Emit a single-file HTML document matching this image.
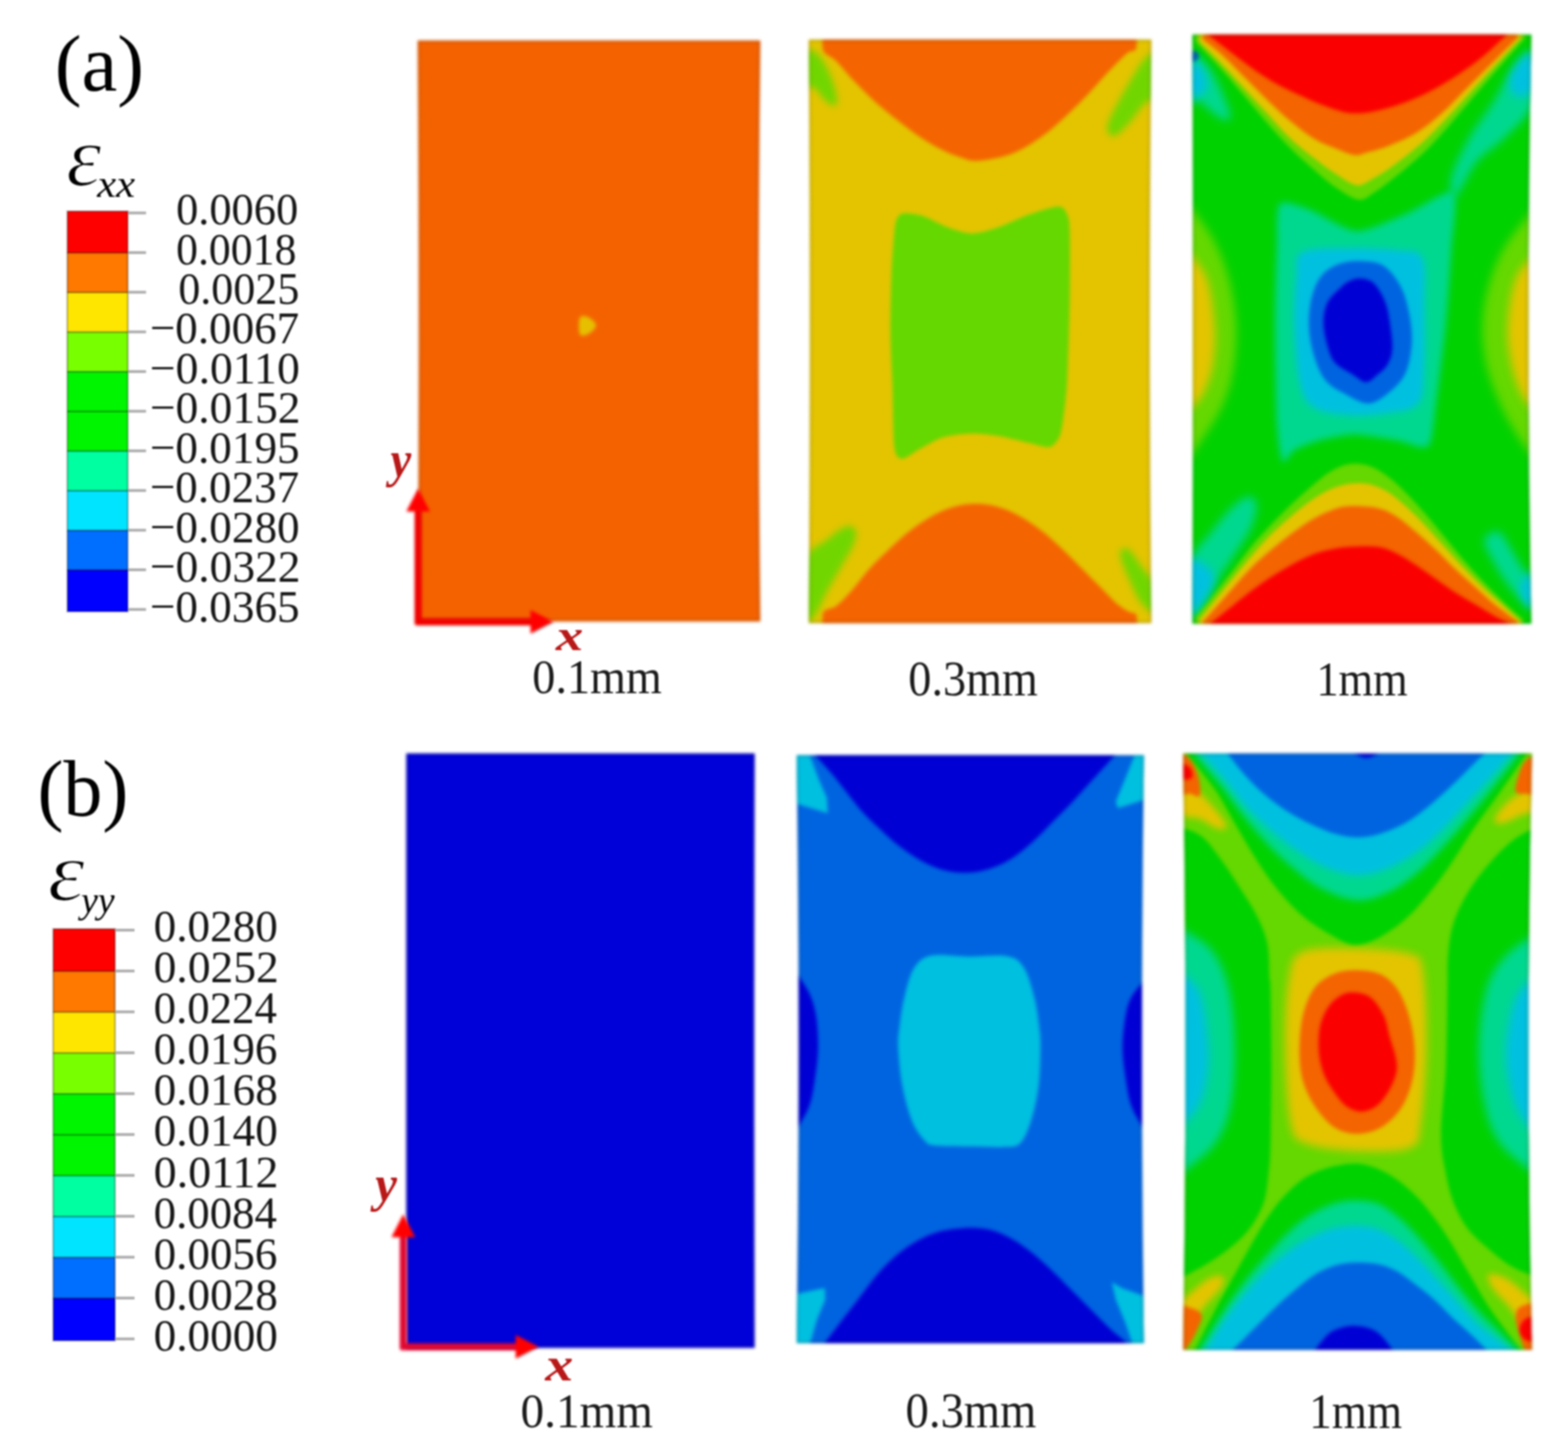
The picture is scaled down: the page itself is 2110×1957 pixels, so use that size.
<!DOCTYPE html>
<html lang="en">
<head>
<meta charset="utf-8">
<title>Strain contour plots</title>
<style>
html,body{margin:0;padding:0;background:#fff;}
body{width:2110px;height:1957px;overflow:hidden;}
svg{display:block;}
text{font-family:"Liberation Serif","DejaVu Serif",serif;}
</style>
</head>
<body>
<svg width="2110" height="1957" viewBox="0 0 2110 1957">
<defs>
<filter id="soft" x="-20%" y="-20%" width="140%" height="140%" color-interpolation-filters="sRGB"><feGaussianBlur stdDeviation="1.8"/></filter>
<filter id="soft15" x="-30%" y="-30%" width="160%" height="160%" color-interpolation-filters="sRGB"><feGaussianBlur stdDeviation="4"/></filter>
<filter id="soft2" x="-30%" y="-30%" width="160%" height="160%" color-interpolation-filters="sRGB"><feGaussianBlur stdDeviation="6"/></filter>
<filter id="soft3" x="-50%" y="-50%" width="200%" height="200%" color-interpolation-filters="sRGB"><feGaussianBlur stdDeviation="12"/></filter>
<filter id="soft4" x="-80%" y="-80%" width="260%" height="260%" color-interpolation-filters="sRGB"><feGaussianBlur stdDeviation="20"/></filter>
<filter id="edge" x="-5%" y="-5%" width="110%" height="110%" color-interpolation-filters="sRGB"><feGaussianBlur stdDeviation="1.9"/></filter>
<filter id="leg" x="-10%" y="-10%" width="120%" height="120%" color-interpolation-filters="sRGB"><feGaussianBlur stdDeviation="1.1"/></filter>
<filter id="arr" x="-10%" y="-10%" width="120%" height="120%" color-interpolation-filters="sRGB"><feGaussianBlur stdDeviation="1.9"/></filter>
<filter id="txt" filterUnits="userSpaceOnUse" x="0" y="0" width="2110" height="1957" color-interpolation-filters="sRGB"><feGaussianBlur stdDeviation="1.1"/></filter>
</defs>
<rect width="2110" height="1957" fill="#fff"/>
<g filter="url(#edge)">
<clipPath id="clip-a1"><path d="M562,54.6 L1023.2,54.6 Q1018.4,445.6 1023.2,836.5 L562,836.5 Q565.0,445.6 562,54.6Z"/></clipPath>
<g clip-path="url(#clip-a1)">
<rect x="532" y="24.6" width="521.2" height="841.9" fill="#f46200"/>
<path d="M780.3,427.5 C782.2,423.7 788.1,425.3 791.7,427.0 C795.3,428.7 802.1,434.2 802.1,437.9 C802.1,441.6 795.3,447.4 791.7,449.4 C788.1,451.3 782.2,453.5 780.3,449.9 C778.4,446.2 778.4,431.3 780.3,427.5Z" fill="#e6c000" filter="url(#soft)"/>
<path d="M562,54.6 L1023.2,54.6 Q1018.4,445.6 1023.2,836.5 L562,836.5 Q565.0,445.6 562,54.6Z" fill="none" stroke="#000" stroke-opacity="0.13" stroke-width="6"/>
</g></g>
<g filter="url(#edge)">
<clipPath id="clip-a2"><path d="M1088.3,53.3 L1549.4,53.3 Q1544.8,446.0 1549.4,838.8 L1088.3,838.8 Q1091.3,446.0 1088.3,53.3Z"/></clipPath>
<g clip-path="url(#clip-a2)">
<rect x="1058.3" y="23.299999999999997" width="521.1" height="845.5" fill="#e4c400"/>
<path d="M1107.0,45.7 C1107.2,49.2 1105.5,63.7 1108.3,69.1 C1111.0,74.6 1119.6,76.7 1125.2,82.2 C1130.9,87.7 1138.7,97.8 1146.1,105.7 C1153.5,113.5 1165.8,126.1 1174.8,134.4 C1183.8,142.6 1196.7,153.0 1206.1,160.5 C1215.5,167.9 1228.0,177.7 1237.4,183.9 C1246.8,190.2 1260.1,197.9 1268.7,202.2 C1277.3,206.5 1288.6,210.5 1294.8,212.6 C1301.1,214.8 1304.6,216.4 1310.5,216.6 C1316.3,216.7 1326.5,215.3 1334.0,213.9 C1341.4,212.6 1352.2,210.4 1360.1,207.4 C1367.9,204.5 1378.3,199.1 1386.1,194.4 C1394.0,189.7 1404.4,182.4 1412.2,176.1 C1420.1,169.8 1430.5,160.1 1438.3,152.6 C1446.2,145.2 1456.6,134.8 1464.4,126.5 C1472.2,118.3 1482.7,106.1 1490.5,97.8 C1498.3,89.6 1510.9,76.4 1516.6,71.7 C1522.3,67.0 1526.4,70.4 1528.3,66.5 C1530.3,62.6 1529.4,48.8 1529.6,45.7 L1529.6,30.0 L1107.0,30.0Z" fill="#f46400" filter="url(#soft)"/>
<path d="M1216.5,287.0 C1221.2,286.7 1234.6,288.3 1242.6,290.9 C1250.6,293.5 1267.9,303.4 1276.6,306.6 C1285.3,309.7 1299.2,314.4 1307.9,314.4 C1316.6,314.4 1331.3,310.0 1341.8,306.6 C1352.2,303.1 1375.0,292.1 1386.1,288.3 C1397.3,284.5 1418.5,277.5 1425.3,277.9 C1432.1,278.2 1435.1,285.7 1437.0,290.9 C1438.9,296.1 1439.3,303.1 1439.6,317.0 C1440.0,330.9 1439.8,377.5 1439.6,395.3 C1439.5,413.0 1438.8,433.7 1438.3,450.1 C1437.8,466.5 1436.8,502.9 1435.7,518.3 C1434.7,533.6 1431.9,555.8 1430.5,565.2 C1429.1,574.6 1427.7,583.9 1425.3,588.7 C1422.8,593.6 1417.5,600.7 1412.2,601.8 C1407.0,602.8 1394.8,598.5 1386.1,596.5 C1377.4,594.6 1357.4,589.2 1347.0,587.4 C1336.6,585.7 1318.3,583.3 1307.9,583.5 C1297.4,583.7 1278.1,585.9 1268.7,588.7 C1259.3,591.5 1244.7,600.5 1237.4,604.4 C1230.1,608.2 1218.5,617.8 1213.9,617.4 C1209.4,617.1 1205.2,615.0 1203.5,601.8 C1201.8,588.5 1201.6,538.5 1200.9,518.3 C1200.2,498.0 1198.5,469.9 1198.3,450.1 C1198.1,430.2 1198.9,387.6 1199.6,369.2 C1200.3,350.7 1202.5,321.9 1203.5,311.8 C1204.5,301.7 1205.7,296.8 1207.4,293.5 C1209.2,290.2 1211.9,287.3 1216.5,287.0Z" fill="#64d800" filter="url(#soft)"/>
<path d="M1084.8,69.1 C1087.2,62.2 1094.6,68.3 1099.1,71.7 C1103.7,75.2 1108.3,82.6 1112.2,90.0 C1116.1,97.4 1120.2,108.3 1122.6,116.1 C1125.0,123.9 1126.8,132.6 1126.5,137.0 C1126.3,141.3 1124.1,142.6 1121.3,142.2 C1118.5,141.8 1113.7,138.3 1109.6,134.4 C1105.4,130.5 1100.7,122.2 1096.5,118.7 C1092.4,115.2 1086.7,121.8 1084.8,113.5 C1082.8,105.2 1082.4,76.1 1084.8,69.1Z" fill="#64d800" fill-opacity="0.9" filter="url(#soft15)"/>
<path d="M1553.1,74.4 C1551.0,66.1 1544.9,74.8 1540.1,79.6 C1535.3,84.4 1530.5,93.1 1524.4,103.1 C1518.3,113.1 1509.2,128.7 1503.6,139.6 C1497.9,150.5 1492.2,161.3 1490.5,168.3 C1488.8,175.2 1490.9,179.2 1493.1,181.3 C1495.3,183.5 1498.8,184.4 1503.6,181.3 C1508.3,178.3 1515.7,170.0 1521.8,163.1 C1527.9,156.1 1534.9,145.2 1540.1,139.6 C1545.3,133.9 1551.0,140.0 1553.1,129.1 C1555.3,118.3 1555.3,82.6 1553.1,74.4Z" fill="#64d800" fill-opacity="0.9" filter="url(#soft15)"/>
<path d="M1084.8,753.1 C1089.4,735.3 1103.3,734.4 1112.2,727.0 C1121.1,719.6 1131.8,710.9 1138.3,708.7 C1144.8,706.6 1149.6,710.0 1151.3,714.0 C1153.1,717.9 1151.8,724.4 1148.7,732.2 C1145.7,740.1 1139.1,750.1 1133.1,760.9 C1127.0,771.8 1117.8,787.0 1112.2,797.5 C1106.5,807.9 1103.7,817.5 1099.1,823.5 C1094.6,829.6 1087.2,845.7 1084.8,834.0 C1082.4,822.2 1080.2,770.9 1084.8,753.1Z" fill="#64d800" fill-opacity="0.9" filter="url(#soft15)"/>
<path d="M1508.8,740.1 C1510.5,737.9 1514.9,736.6 1519.2,740.1 C1523.6,743.5 1529.2,753.1 1534.9,760.9 C1540.5,768.8 1550.1,776.6 1553.1,787.0 C1556.2,797.5 1556.2,819.6 1553.1,823.5 C1550.1,827.5 1540.5,817.9 1534.9,810.5 C1529.2,803.1 1523.6,788.8 1519.2,779.2 C1514.9,769.6 1510.5,759.6 1508.8,753.1 C1507.0,746.6 1507.0,742.2 1508.8,740.1Z" fill="#64d800" fill-opacity="0.9" filter="url(#soft15)"/>
<path d="M1107.0,847.0 C1107.2,843.5 1105.5,828.2 1108.3,823.5 C1111.0,818.8 1119.6,820.0 1125.2,815.7 C1130.9,811.4 1139.4,802.3 1146.1,794.8 C1152.8,787.4 1162.1,774.4 1169.6,766.1 C1177.0,757.9 1187.8,747.5 1195.7,740.1 C1203.5,732.6 1213.9,722.8 1221.8,716.6 C1229.6,710.3 1240.0,703.0 1247.9,698.3 C1255.7,693.6 1266.1,688.2 1273.9,685.3 C1281.8,682.3 1292.2,679.7 1300.0,678.7 C1307.9,677.8 1318.3,677.8 1326.1,678.7 C1334.0,679.7 1344.4,682.3 1352.2,685.3 C1360.1,688.2 1370.5,693.6 1378.3,698.3 C1386.1,703.0 1396.6,710.3 1404.4,716.6 C1412.2,722.8 1422.7,732.6 1430.5,740.1 C1438.3,747.5 1448.8,758.3 1456.6,766.1 C1464.4,774.0 1475.6,785.2 1482.7,792.2 C1489.7,799.3 1498.1,808.4 1503.6,813.1 C1509.0,817.8 1515.4,821.4 1519.2,823.5 C1523.0,825.7 1527.6,823.9 1529.1,827.5 C1530.7,831.0 1529.6,844.1 1529.6,847.0 L1529.6,870.5 L1107.0,870.5Z" fill="#f46400" filter="url(#soft)"/>
<path d="M1088.3,53.3 L1549.4,53.3 Q1544.8,446.0 1549.4,838.8 L1088.3,838.8 Q1091.3,446.0 1088.3,53.3Z" fill="none" stroke="#000" stroke-opacity="0.13" stroke-width="6"/>
</g></g>
<g filter="url(#edge)">
<clipPath id="clip-a3"><path d="M1604.5,46.5 L2060.8,46.5 Q2052.6,443.0 2060.8,839.5 L1604.5,839.5 Q1606.1,443.0 1604.5,46.5Z"/></clipPath>
<g clip-path="url(#clip-a3)">
<rect x="1574.5" y="16.5" width="516.3" height="853.0" fill="#00d200"/>
<path d="M1600.9,277.0 C1606.1,284.4 1623.5,305.2 1632.2,321.3 C1640.9,337.4 1647.8,353.9 1653.1,373.5 C1658.3,393.1 1662.6,417.0 1663.5,438.7 C1664.4,460.5 1662.2,484.4 1658.3,504.0 C1654.4,523.5 1649.6,537.4 1640.0,556.1 C1630.4,574.8 1607.4,606.1 1600.9,616.2 L1580.0,616.2 L1580.0,277.0Z" fill="#64d800" filter="url(#soft2)"/>
<path d="M1602.2,342.2 C1605.9,347.8 1618.9,360.0 1624.4,376.1 C1629.8,392.2 1633.5,419.6 1634.8,438.7 C1636.1,457.9 1634.8,475.7 1632.2,490.9 C1629.6,506.1 1624.1,520.0 1619.1,530.1 C1614.1,540.1 1605.0,547.4 1602.2,550.9 L1580.0,550.9 L1580.0,342.2Z" fill="#e4c400" filter="url(#soft2)"/>
<path d="M2062.7,282.2 C2056.2,290.9 2033.6,317.0 2023.6,334.4 C2013.6,351.8 2007.5,369.2 2002.7,386.5 C1997.9,403.9 1995.3,421.3 1994.9,438.7 C1994.4,456.1 1996.2,473.5 2000.1,490.9 C2004.0,508.3 2011.8,527.9 2018.3,543.1 C2024.9,558.3 2031.8,570.1 2039.2,582.2 C2046.6,594.4 2058.8,610.5 2062.7,616.2 L2088.8,616.2 L2088.8,282.2Z" fill="#64d800" filter="url(#soft2)"/>
<path d="M2062.7,344.8 C2058.8,350.0 2044.9,360.5 2039.2,376.1 C2033.6,391.8 2029.6,419.6 2028.8,438.7 C2027.9,457.9 2030.9,475.7 2034.0,490.9 C2037.0,506.1 2042.3,520.0 2047.0,530.1 C2051.8,540.1 2060.1,547.4 2062.7,550.9 L2088.8,550.9 L2088.8,344.8Z" fill="#e4c400" filter="url(#soft2)"/>
<path d="M1722.2,274.4 C1727.4,268.3 1750.6,277.9 1762.6,282.2 C1774.7,286.4 1810.0,310.3 1825.3,310.9 C1840.5,311.5 1877.9,293.5 1893.1,287.4 C1908.3,281.3 1948.7,253.2 1955.7,258.7 C1962.7,264.2 1954.3,313.4 1953.1,334.4 C1951.9,355.4 1947.7,414.4 1945.3,438.7 C1942.8,463.1 1935.0,524.2 1932.2,543.1 C1929.5,562.0 1927.9,594.7 1921.8,600.5 C1915.7,606.3 1891.6,594.5 1880.1,592.7 C1868.5,590.8 1834.8,584.8 1822.6,584.8 C1810.5,584.8 1785.1,590.2 1775.7,592.7 C1766.2,595.1 1747.5,602.4 1741.8,605.7 C1736.0,609.1 1728.9,625.6 1726.1,621.4 C1723.4,617.1 1719.5,590.5 1718.3,569.2 C1717.1,547.9 1715.7,466.1 1715.7,438.7 C1715.7,411.3 1717.5,353.5 1718.3,334.4 C1719.0,315.2 1717.0,280.4 1722.2,274.4Z" fill="#00d890" filter="url(#soft15)"/>
<path d="M2062.7,69.1 C2067.5,76.5 2069.2,120.0 2062.7,139.6 C2056.2,159.2 2036.2,173.5 2023.6,186.5 C2010.9,199.6 1997.9,204.8 1987.0,217.9 C1976.2,230.9 1964.0,261.3 1958.3,264.8 C1952.7,268.3 1950.1,251.8 1953.1,238.7 C1956.1,225.7 1967.5,203.1 1976.6,186.5 C1985.7,170.0 1998.3,154.8 2007.9,139.6 C2017.5,124.4 2024.9,107.0 2034.0,95.2 C2043.1,83.5 2057.9,61.7 2062.7,69.1Z" fill="#00d890" filter="url(#soft2)"/>
<path d="M2062.7,74.4 C2065.7,80.9 2066.6,112.2 2062.7,121.3 C2058.8,130.5 2044.4,131.3 2039.2,129.1 C2034.0,127.0 2030.5,116.1 2031.4,108.3 C2032.2,100.4 2039.2,87.8 2044.4,82.2 C2049.6,76.5 2059.6,67.8 2062.7,74.4Z" fill="#00c0e0" filter="url(#soft2)"/>
<path d="M1600.9,77.0 C1603.9,67.4 1613.0,77.0 1619.1,82.2 C1625.2,87.4 1631.3,96.1 1637.4,108.3 C1643.5,120.4 1654.4,146.5 1655.7,155.2 C1657.0,163.9 1650.0,161.8 1645.2,160.5 C1640.4,159.2 1632.6,151.8 1627.0,147.4 C1621.3,143.1 1615.7,135.7 1611.3,134.4 C1607.0,133.1 1602.6,149.2 1600.9,139.6 C1599.1,130.0 1597.8,86.5 1600.9,77.0Z" fill="#00d890" filter="url(#soft2)"/>
<path d="M1600.9,82.2 C1603.5,75.7 1612.6,84.4 1616.5,90.0 C1620.4,95.7 1624.8,109.6 1624.4,116.1 C1623.9,122.6 1617.8,127.0 1613.9,129.1 C1610.0,131.3 1603.0,137.0 1600.9,129.1 C1598.7,121.3 1598.3,88.7 1600.9,82.2Z" fill="#00c0e0" filter="url(#soft2)"/>
<path d="M1602.2,69.1 C1603.6,67.3 1608.9,68.4 1610.8,69.7 C1612.7,71.0 1613.8,74.9 1613.4,77.0 C1613.0,79.1 1610.0,81.5 1608.2,82.2 C1606.3,82.8 1603.2,83.1 1602.2,80.9 C1601.2,78.7 1600.7,71.0 1602.2,69.1Z" fill="#0050c0" fill-opacity="0.85" filter="url(#soft)"/>
<path d="M1752.2,339.6 C1763.9,333.1 1793.5,334.8 1814.8,334.4 C1836.1,333.9 1863.5,334.8 1880.1,337.0 C1896.6,339.1 1907.9,334.8 1914.0,347.4 C1920.1,360.0 1916.1,388.7 1916.6,412.6 C1917.0,436.6 1917.9,469.2 1916.6,490.9 C1915.3,512.7 1917.0,532.2 1908.8,543.1 C1900.5,554.0 1882.7,553.5 1867.0,556.1 C1851.3,558.8 1831.3,560.1 1814.8,558.8 C1798.3,557.4 1778.7,555.3 1767.9,548.3 C1757.0,541.4 1753.9,535.3 1749.6,517.0 C1745.2,498.7 1742.6,462.6 1741.8,438.7 C1740.9,414.8 1742.6,390.0 1744.4,373.5 C1746.1,357.0 1740.5,346.1 1752.2,339.6Z" fill="#00c0e0" filter="url(#soft15)"/>
<path d="M1830.5,351.3 C1840.5,351.8 1852.7,352.0 1861.8,357.8 C1870.9,363.7 1879.4,375.2 1885.3,386.5 C1891.1,397.9 1894.6,412.6 1897.0,425.7 C1899.4,438.7 1900.7,451.8 1899.6,464.8 C1898.5,477.9 1895.9,493.1 1890.5,504.0 C1885.1,514.8 1875.3,523.5 1867.0,530.1 C1858.7,536.6 1850.5,543.1 1840.9,543.1 C1831.3,543.1 1819.2,535.3 1809.6,530.1 C1800.0,524.8 1790.5,520.5 1783.5,511.8 C1776.6,503.1 1771.6,490.0 1767.9,477.9 C1764.2,465.7 1761.8,451.8 1761.3,438.7 C1760.9,425.7 1762.4,410.9 1765.2,399.6 C1768.1,388.3 1772.2,378.3 1778.3,370.9 C1784.4,363.5 1793.1,358.5 1801.8,355.2 C1810.5,352.0 1820.5,350.9 1830.5,351.3Z" fill="#0064e0" filter="url(#soft)"/>
<path d="M1830.5,374.8 C1836.1,375.2 1843.1,375.9 1848.7,381.3 C1854.4,386.8 1860.7,397.9 1864.4,407.4 C1868.1,417.0 1869.4,428.3 1870.9,438.7 C1872.4,449.2 1874.2,461.3 1873.5,470.0 C1872.9,478.7 1870.3,485.3 1867.0,490.9 C1863.7,496.6 1858.7,500.0 1854.0,504.0 C1849.2,507.9 1844.0,514.4 1838.3,514.4 C1832.7,514.4 1827.0,508.3 1820.0,504.0 C1813.1,499.6 1802.2,494.8 1796.6,488.3 C1790.9,481.8 1788.7,474.0 1786.1,464.8 C1783.5,455.7 1780.9,443.1 1780.9,433.5 C1780.9,423.9 1782.6,414.8 1786.1,407.4 C1789.6,400.0 1797.0,393.9 1801.8,389.2 C1806.6,384.4 1810.0,381.1 1814.8,378.7 C1819.6,376.3 1824.8,374.4 1830.5,374.8Z" fill="#0000d4" filter="url(#soft)"/>
<path d="M1608.7,56.1 C1614.8,62.6 1633.9,82.6 1645.2,95.2 C1656.5,107.8 1666.5,120.0 1676.5,131.8 C1686.5,143.5 1695.2,154.4 1705.2,165.7 C1715.2,177.0 1726.1,189.2 1736.5,199.6 C1747.0,210.0 1757.9,219.6 1767.9,228.3 C1777.9,237.0 1786.6,245.0 1796.6,251.8 C1806.6,258.5 1819.2,267.4 1827.9,268.7 C1836.6,270.0 1840.0,265.0 1848.7,259.6 C1857.4,254.2 1868.3,245.7 1880.1,236.1 C1891.8,226.6 1907.4,213.5 1919.2,202.2 C1930.9,190.9 1940.1,180.0 1950.5,168.3 C1960.9,156.5 1971.4,143.9 1981.8,131.8 C1992.2,119.6 2001.4,108.7 2013.1,95.2 C2024.9,81.7 2045.7,58.3 2052.3,50.9 L2052.3,30.0 L1608.7,30.0Z" fill="#64d800" filter="url(#soft)"/>
<path d="M1613.9,56.1 C1619.1,61.3 1634.8,76.5 1645.2,87.4 C1655.7,98.3 1666.5,110.4 1676.5,121.3 C1686.5,132.2 1695.2,141.8 1705.2,152.6 C1715.2,163.5 1726.1,176.5 1736.5,186.5 C1747.0,196.5 1757.9,204.8 1767.9,212.6 C1777.9,220.5 1787.0,227.4 1796.6,233.5 C1806.1,239.6 1817.0,247.9 1825.3,249.2 C1833.5,250.5 1837.9,245.7 1846.1,241.3 C1854.4,237.0 1863.5,231.3 1874.8,223.1 C1886.1,214.8 1902.2,202.2 1914.0,191.8 C1925.7,181.3 1934.8,171.3 1945.3,160.5 C1955.7,149.6 1966.2,137.8 1976.6,126.5 C1987.0,115.2 1996.2,105.2 2007.9,92.6 C2019.6,80.0 2040.5,57.8 2047.0,50.9 L2047.0,30.0 L1613.9,30.0Z" fill="#e4c400" filter="url(#soft)"/>
<path d="M1619.1,53.5 C1623.5,57.0 1635.7,65.7 1645.2,74.4 C1654.8,83.1 1666.5,95.7 1676.5,105.7 C1686.5,115.7 1695.2,124.8 1705.2,134.4 C1715.2,143.9 1726.1,154.4 1736.5,163.1 C1747.0,171.8 1757.9,180.5 1767.9,186.5 C1777.9,192.6 1787.4,195.9 1796.6,199.6 C1805.7,203.3 1815.3,207.9 1822.6,208.7 C1830.0,209.6 1833.5,206.8 1840.9,204.8 C1848.3,202.9 1856.1,201.3 1867.0,197.0 C1877.9,192.6 1894.0,186.1 1906.1,178.7 C1918.3,171.3 1929.2,162.2 1940.1,152.6 C1950.9,143.1 1960.9,131.8 1971.4,121.3 C1981.8,110.9 1990.9,101.8 2002.7,90.0 C2014.4,78.3 2035.3,57.4 2041.8,50.9 L2041.8,30.0 L1619.1,30.0Z" fill="#f46400" filter="url(#soft)"/>
<path d="M1624.4,45.7 C1630.0,50.0 1647.4,63.5 1658.3,71.7 C1669.1,80.0 1678.7,87.8 1689.6,95.2 C1700.5,102.6 1711.3,109.6 1723.5,116.1 C1735.7,122.6 1750.5,129.1 1762.6,134.4 C1774.8,139.6 1786.6,144.4 1796.6,147.4 C1806.6,150.5 1813.1,152.4 1822.6,152.6 C1832.2,152.8 1842.2,151.3 1854.0,148.7 C1865.7,146.1 1880.1,142.0 1893.1,137.0 C1906.1,132.0 1920.1,125.2 1932.2,118.7 C1944.4,112.2 1955.3,105.2 1966.2,97.8 C1977.0,90.4 1987.0,83.1 1997.5,74.4 C2007.9,65.7 2023.6,50.4 2028.8,45.7 L2028.8,30.0 L1624.4,30.0Z" fill="#fa0000" filter="url(#soft)"/>
<path d="M1600.9,758.3 C1605.7,740.1 1620.0,729.2 1629.6,716.6 C1639.1,704.0 1649.8,690.7 1658.3,682.6 C1666.8,674.6 1675.0,668.7 1680.5,668.3 C1685.9,667.9 1690.5,672.9 1690.9,680.0 C1691.3,687.2 1687.8,700.5 1683.1,711.3 C1678.3,722.2 1670.0,733.1 1662.2,745.3 C1654.4,757.4 1644.1,771.4 1636.1,784.4 C1628.1,797.5 1619.8,816.6 1613.9,823.5 C1608.0,830.5 1603.0,837.0 1600.9,826.2 C1598.7,815.3 1596.1,776.6 1600.9,758.3Z" fill="#00d890" filter="url(#soft2)"/>
<path d="M1598.3,755.7 C1602.2,745.3 1615.9,757.0 1621.7,760.9 C1627.6,764.8 1633.9,770.9 1633.5,779.2 C1633.1,787.4 1625.0,803.1 1619.1,810.5 C1613.3,817.9 1601.7,832.7 1598.3,823.5 C1594.8,814.4 1594.4,766.1 1598.3,755.7Z" fill="#00c0e0" filter="url(#soft2)"/>
<path d="M2002.7,719.2 C2006.2,717.0 2013.1,713.1 2018.3,716.6 C2023.6,720.0 2028.8,731.8 2034.0,740.1 C2039.2,748.3 2044.9,759.6 2049.6,766.1 C2054.4,772.7 2060.5,770.5 2062.7,779.2 C2064.9,787.9 2065.7,814.0 2062.7,818.3 C2059.6,822.7 2050.9,811.8 2044.4,805.3 C2037.9,798.8 2030.1,788.8 2023.6,779.2 C2017.0,769.6 2009.6,756.1 2005.3,747.9 C2000.9,739.6 1997.9,734.4 1997.5,729.6 C1997.0,724.8 1999.2,721.4 2002.7,719.2Z" fill="#00d890" filter="url(#soft2)"/>
<path d="M2062.7,774.0 C2065.3,779.6 2064.9,813.1 2062.7,818.3 C2060.5,823.5 2052.3,810.9 2049.6,805.3 C2047.0,799.6 2044.9,789.6 2047.0,784.4 C2049.2,779.2 2060.1,768.3 2062.7,774.0Z" fill="#00c0e0" filter="url(#soft2)"/>
<path d="M1608.7,831.4 C1617.0,820.9 1645.7,784.8 1658.3,768.8 C1670.9,752.7 1675.7,745.3 1684.4,734.8 C1693.1,724.4 1701.8,715.3 1710.5,706.1 C1719.2,697.0 1727.9,688.3 1736.5,680.0 C1745.2,671.8 1753.9,664.0 1762.6,656.6 C1771.3,649.2 1780.0,641.0 1788.7,635.7 C1797.4,630.4 1806.1,626.2 1814.8,624.7 C1823.5,623.2 1832.2,623.9 1840.9,626.6 C1849.6,629.2 1858.3,634.6 1867.0,640.9 C1875.7,647.2 1884.4,655.7 1893.1,664.4 C1901.8,673.1 1910.5,683.1 1919.2,693.1 C1927.9,703.1 1936.6,714.0 1945.3,724.4 C1954.0,734.8 1962.7,745.7 1971.4,755.7 C1980.1,765.7 1988.8,775.3 1997.5,784.4 C2006.2,793.5 2014.9,802.2 2023.6,810.5 C2032.2,818.8 2045.3,830.1 2049.6,834.0 L2049.6,883.6 L1608.7,883.6Z" fill="#64d800" filter="url(#soft)"/>
<path d="M1613.9,834.0 C1621.3,824.8 1646.5,793.5 1658.3,779.2 C1670.0,764.8 1675.7,757.9 1684.4,747.9 C1693.1,737.9 1701.8,727.9 1710.5,719.2 C1719.2,710.5 1727.9,703.1 1736.5,695.7 C1745.2,688.3 1753.9,680.9 1762.6,674.8 C1771.3,668.7 1780.0,663.1 1788.7,659.2 C1797.4,655.3 1806.1,652.6 1814.8,651.3 C1823.5,650.0 1832.2,649.6 1840.9,651.3 C1849.6,653.1 1858.3,656.6 1867.0,661.8 C1875.7,667.0 1884.4,674.8 1893.1,682.6 C1901.8,690.5 1910.5,699.6 1919.2,708.7 C1927.9,717.9 1936.6,727.9 1945.3,737.4 C1954.0,747.0 1962.7,757.0 1971.4,766.1 C1980.1,775.3 1988.8,784.0 1997.5,792.2 C2006.2,800.5 2015.3,808.3 2023.6,815.7 C2031.8,823.1 2043.1,833.1 2047.0,836.6 L2047.0,883.6 L1613.9,883.6Z" fill="#e4c400" filter="url(#soft)"/>
<path d="M1619.1,836.6 C1625.7,829.2 1647.4,804.4 1658.3,792.2 C1669.1,780.1 1675.7,772.2 1684.4,763.5 C1693.1,754.8 1701.8,747.4 1710.5,740.1 C1719.2,732.7 1727.9,725.7 1736.5,719.2 C1745.2,712.7 1753.9,706.1 1762.6,700.9 C1771.3,695.7 1780.0,691.1 1788.7,687.9 C1797.4,684.6 1804.0,682.0 1814.8,681.3 C1825.7,680.7 1843.1,681.6 1854.0,684.0 C1864.8,686.3 1871.4,690.3 1880.1,695.7 C1888.7,701.1 1897.4,709.2 1906.1,716.6 C1914.8,724.0 1923.5,731.8 1932.2,740.1 C1940.9,748.3 1949.6,757.9 1958.3,766.1 C1967.0,774.4 1975.7,781.8 1984.4,789.6 C1993.1,797.5 2000.9,805.3 2010.5,813.1 C2020.1,820.9 2036.6,832.7 2041.8,836.6 L2041.8,883.6 L1619.1,883.6Z" fill="#f46400" filter="url(#soft)"/>
<path d="M1627.0,840.5 C1632.2,836.4 1648.7,823.3 1658.3,815.7 C1667.8,808.1 1675.7,801.4 1684.4,794.8 C1693.1,788.3 1701.8,782.2 1710.5,776.6 C1719.2,770.9 1727.9,765.7 1736.5,760.9 C1745.2,756.1 1753.9,751.4 1762.6,747.9 C1771.3,744.4 1780.0,742.0 1788.7,740.1 C1797.4,738.1 1804.0,736.8 1814.8,736.1 C1825.7,735.5 1843.1,734.6 1854.0,736.1 C1864.8,737.7 1871.4,741.1 1880.1,745.3 C1888.7,749.4 1897.4,755.3 1906.1,760.9 C1914.8,766.6 1923.5,773.1 1932.2,779.2 C1940.9,785.3 1949.6,791.8 1958.3,797.5 C1967.0,803.1 1975.7,807.9 1984.4,813.1 C1993.1,818.3 2002.2,824.2 2010.5,828.8 C2018.8,833.3 2030.1,838.5 2034.0,840.5 L2034.0,883.6 L1627.0,883.6Z" fill="#fa0000" filter="url(#soft)"/>
<path d="M1604.5,46.5 L2060.8,46.5 Q2052.6,443.0 2060.8,839.5 L1604.5,839.5 Q1606.1,443.0 1604.5,46.5Z" fill="none" stroke="#000" stroke-opacity="0.13" stroke-width="6"/>
</g></g>
<g filter="url(#edge)">
<clipPath id="clip-b1"><path d="M546.7,1014.1 L1015.6,1014.1 Q1014.4,1414.2 1015.6,1814.3 L546.7,1814.3 Q546.7,1414.2 546.7,1014.1Z"/></clipPath>
<g clip-path="url(#clip-b1)">
<rect x="516.7" y="984.1" width="528.9" height="860.2" fill="#0000d8"/>
<path d="M546.7,1014.1 L1015.6,1014.1 Q1014.4,1414.2 1015.6,1814.3 L546.7,1814.3 Q546.7,1414.2 546.7,1014.1Z" fill="none" stroke="#000" stroke-opacity="0.13" stroke-width="6"/>
</g></g>
<g filter="url(#edge)">
<clipPath id="clip-b2"><path d="M1072,1016.4 L1539.4,1016.4 Q1533.8,1412.2 1539.4,1808 L1072,1808 Q1077.6,1412.2 1072,1016.4Z"/></clipPath>
<g clip-path="url(#clip-b2)">
<rect x="1042" y="986.4" width="527.4" height="851.6" fill="#0064e0"/>
<path d="M1091.7,1010.9 C1096.1,1015.7 1110.0,1030.4 1117.8,1039.6 C1125.7,1048.7 1131.8,1057.0 1138.7,1065.7 C1145.7,1074.4 1152.6,1083.9 1159.6,1091.8 C1166.5,1099.6 1172.6,1105.2 1180.5,1112.6 C1188.3,1120.0 1197.9,1129.2 1206.5,1136.1 C1215.2,1143.1 1223.9,1149.2 1232.6,1154.4 C1241.3,1159.6 1250.0,1164.2 1258.7,1167.4 C1267.4,1170.7 1276.1,1172.9 1284.8,1173.9 C1293.5,1175.0 1302.2,1175.0 1310.9,1173.9 C1319.6,1172.9 1328.3,1170.7 1337.0,1167.4 C1345.7,1164.2 1354.4,1160.0 1363.1,1154.4 C1371.8,1148.7 1380.5,1141.3 1389.2,1133.5 C1397.9,1125.7 1406.6,1116.1 1415.3,1107.4 C1424.0,1098.7 1432.7,1090.5 1441.4,1081.3 C1450.1,1072.2 1458.8,1062.2 1467.5,1052.6 C1476.2,1043.1 1487.0,1031.1 1493.6,1023.9 C1500.1,1016.7 1504.4,1012.0 1506.6,1009.6 L1506.6,990.0 L1091.7,990.0Z" fill="#0000d4" filter="url(#soft)"/>
<path d="M1065.7,1010.9 L1089.1,1014.8 L1102.2,1050.0 L1112.6,1073.5 L1113.9,1094.4 L1065.7,1080.0Z" fill="#00c0e0" filter="url(#soft)"/>
<path d="M1545.7,1010.9 L1527.5,1014.8 L1514.4,1047.4 L1501.4,1078.7 L1504.0,1087.8 L1545.7,1074.8Z" fill="#00c0e0" filter="url(#soft)"/>
<path d="M1253.5,1286.1 C1265.7,1283.5 1286.1,1287.3 1303.1,1287.4 C1320.0,1287.6 1342.9,1284.5 1355.3,1286.9 C1367.7,1289.3 1371.4,1292.6 1377.4,1301.8 C1383.5,1311.0 1388.3,1329.0 1391.8,1342.2 C1395.3,1355.5 1396.9,1370.1 1398.3,1381.4 C1399.7,1392.7 1400.3,1396.6 1400.1,1410.1 C1400.0,1423.6 1399.7,1445.7 1397.5,1462.3 C1395.4,1478.8 1391.3,1496.4 1387.1,1509.2 C1382.9,1522.0 1378.4,1533.5 1372.2,1539.2 C1366.1,1545.0 1360.3,1543.0 1350.1,1543.7 C1339.8,1544.3 1326.1,1543.4 1310.9,1543.1 C1295.7,1542.8 1269.8,1543.1 1258.7,1541.8 C1247.6,1540.5 1249.6,1540.7 1244.4,1535.3 C1239.2,1529.9 1232.4,1521.4 1227.4,1509.2 C1222.4,1497.0 1217.5,1478.8 1214.4,1462.3 C1211.2,1445.7 1209.3,1423.6 1208.6,1410.1 C1208.0,1396.6 1209.1,1392.7 1210.5,1381.4 C1211.9,1370.1 1213.7,1355.3 1217.0,1342.2 C1220.2,1329.2 1223.9,1312.4 1230.0,1303.1 C1236.1,1293.7 1241.3,1288.7 1253.5,1286.1Z" fill="#00c0e0" filter="url(#soft)"/>
<path d="M1070.9,1308.3 C1073.9,1313.1 1084.6,1327.0 1089.1,1337.0 C1093.7,1347.0 1096.3,1356.1 1098.3,1368.3 C1100.2,1380.5 1101.1,1396.6 1100.9,1410.1 C1100.7,1423.6 1098.9,1436.2 1097.0,1449.2 C1095.0,1462.3 1093.5,1476.2 1089.1,1488.3 C1084.8,1500.5 1073.9,1516.6 1070.9,1522.3 L1050.0,1522.3 L1050.0,1308.3Z" fill="#0000d4" filter="url(#soft)"/>
<path d="M1540.5,1318.8 C1537.5,1322.7 1526.6,1334.0 1522.3,1342.2 C1517.9,1350.5 1516.4,1357.0 1514.4,1368.3 C1512.5,1379.6 1510.5,1396.6 1510.5,1410.1 C1510.5,1423.6 1512.5,1436.2 1514.4,1449.2 C1516.4,1462.3 1517.9,1476.2 1522.3,1488.3 C1526.6,1500.5 1537.5,1516.6 1540.5,1522.3 L1558.8,1522.3 L1558.8,1318.8Z" fill="#0000d4" filter="url(#soft)"/>
<path d="M1104.8,1814.4 C1108.7,1809.2 1120.0,1794.0 1128.3,1783.1 C1136.5,1772.2 1145.7,1760.5 1154.4,1749.2 C1163.1,1737.9 1171.8,1725.3 1180.5,1715.3 C1189.2,1705.3 1197.9,1696.6 1206.5,1689.2 C1215.2,1681.8 1223.9,1675.9 1232.6,1670.9 C1241.3,1665.9 1250.0,1662.0 1258.7,1659.2 C1267.4,1656.3 1276.1,1655.0 1284.8,1654.0 C1293.5,1652.9 1302.2,1652.2 1310.9,1652.6 C1319.6,1653.1 1328.3,1654.0 1337.0,1656.6 C1345.7,1659.2 1354.4,1663.3 1363.1,1668.3 C1371.8,1673.3 1380.5,1679.6 1389.2,1686.6 C1397.9,1693.5 1406.6,1701.8 1415.3,1710.1 C1424.0,1718.3 1432.7,1727.4 1441.4,1736.1 C1450.1,1744.8 1458.8,1753.5 1467.5,1762.2 C1476.2,1770.9 1486.6,1781.8 1493.6,1788.3 C1500.5,1794.8 1504.4,1797.2 1509.2,1801.4 C1514.0,1805.5 1520.1,1811.2 1522.3,1813.1 L1522.3,1840.5 L1104.8,1840.5Z" fill="#0000d4" filter="url(#soft)"/>
<path d="M1065.7,1742.7 L1110.0,1733.5 L1110.5,1749.2 L1099.6,1775.3 L1089.1,1811.8 L1065.7,1811.8Z" fill="#00c0e0" filter="url(#soft)"/>
<path d="M1496.2,1725.7 L1509.2,1733.5 L1545.7,1746.6 L1545.7,1811.8 L1524.9,1811.8 L1514.4,1780.5 L1501.4,1749.2Z" fill="#00c0e0" filter="url(#soft)"/>
<path d="M1072,1016.4 L1539.4,1016.4 Q1533.8,1412.2 1539.4,1808 L1072,1808 Q1077.6,1412.2 1072,1016.4Z" fill="none" stroke="#000" stroke-opacity="0.13" stroke-width="6"/>
</g></g>
<g filter="url(#edge)">
<clipPath id="clip-b3"><path d="M1592,1014.1 L2061.6,1014.1 Q2051.8,1415.6 2061.6,1817.1 L1592,1817.1 Q1598.6,1415.6 1592,1014.1Z"/></clipPath>
<g clip-path="url(#clip-b3)">
<rect x="1562" y="984.1" width="529.6" height="863.0" fill="#64d800"/>
<path d="M1585.7,1112.6 C1590.9,1114.8 1607.4,1118.3 1617.0,1125.7 C1626.5,1133.1 1634.4,1145.2 1643.1,1157.0 C1651.8,1168.7 1660.9,1183.1 1669.1,1196.1 C1677.4,1209.2 1686.5,1222.6 1692.6,1235.3 C1698.7,1247.9 1703.1,1258.3 1705.7,1271.8 C1708.3,1285.3 1707.6,1306.4 1708.3,1316.1 C1708.9,1325.9 1709.2,1310.7 1709.6,1330.5 C1710.0,1350.2 1710.9,1399.8 1710.9,1434.8 C1710.9,1469.8 1710.2,1516.3 1709.6,1540.5 C1708.9,1564.6 1708.5,1566.5 1707.0,1579.6 C1705.5,1592.6 1704.6,1606.6 1700.5,1618.7 C1696.3,1630.9 1689.6,1642.6 1682.2,1652.7 C1674.8,1662.7 1666.1,1670.5 1656.1,1678.7 C1646.1,1687.0 1633.9,1695.0 1622.2,1702.2 C1610.4,1709.4 1591.7,1718.5 1585.7,1721.8 L1570.0,1721.8 L1570.0,1112.6Z" fill="#00d200" filter="url(#soft)"/>
<path d="M2068.3,1112.6 C2063.6,1115.2 2048.8,1121.8 2039.6,1128.3 C2030.5,1134.8 2022.2,1142.6 2013.6,1151.8 C2004.9,1160.9 1995.3,1172.2 1987.5,1183.1 C1979.6,1193.9 1972.2,1205.7 1966.6,1217.0 C1960.9,1228.3 1956.6,1238.7 1953.5,1250.9 C1950.5,1263.1 1949.3,1276.8 1948.3,1290.1 C1947.4,1303.3 1948.2,1306.3 1947.8,1330.5 C1947.4,1354.6 1947.2,1402.0 1945.7,1434.8 C1944.3,1467.6 1939.2,1503.3 1939.2,1527.4 C1939.2,1551.5 1942.9,1564.4 1945.7,1579.6 C1948.5,1594.8 1951.4,1606.6 1956.2,1618.7 C1960.9,1630.9 1967.0,1642.6 1974.4,1652.7 C1981.8,1662.7 1990.5,1670.0 2000.5,1678.7 C2010.5,1687.4 2023.1,1698.1 2034.4,1704.8 C2045.7,1711.6 2062.7,1716.8 2068.3,1719.2 L2078.8,1719.2 L2078.8,1112.6Z" fill="#00d200" filter="url(#soft)"/>
<path d="M1588.3,1249.6 C1595.2,1254.4 1619.1,1264.8 1630.0,1278.3 C1640.9,1291.8 1648.3,1308.7 1653.5,1330.5 C1658.7,1352.2 1660.9,1382.6 1661.3,1408.7 C1661.8,1434.8 1660.4,1465.3 1656.1,1487.0 C1651.8,1508.7 1646.5,1523.5 1635.2,1539.2 C1623.9,1554.8 1596.1,1574.0 1588.3,1580.9 L1570.0,1580.9 L1570.0,1249.6Z" fill="#00d890" filter="url(#soft2)"/>
<path d="M1588.3,1309.6 C1592.6,1313.9 1608.0,1319.2 1614.4,1335.7 C1620.7,1352.2 1624.8,1387.9 1626.1,1408.7 C1627.4,1429.6 1625.0,1446.6 1622.2,1460.9 C1619.4,1475.3 1614.8,1485.7 1609.1,1494.8 C1603.5,1504.0 1591.7,1512.2 1588.3,1515.7 L1570.0,1515.7 L1570.0,1309.6Z" fill="#00c0e0" filter="url(#soft2)"/>
<path d="M2065.7,1257.4 C2059.2,1262.2 2037.5,1273.9 2026.6,1286.1 C2015.7,1298.3 2006.6,1310.0 2000.5,1330.5 C1994.4,1350.9 1990.5,1382.6 1990.1,1408.7 C1989.6,1434.8 1993.1,1465.3 1997.9,1487.0 C2002.7,1508.7 2007.5,1523.5 2018.8,1539.2 C2030.1,1554.8 2057.9,1574.0 2065.7,1580.9 L2086.6,1580.9 L2086.6,1257.4Z" fill="#00d890" filter="url(#soft2)"/>
<path d="M2065.7,1314.8 C2061.4,1319.6 2046.2,1327.8 2039.6,1343.5 C2033.1,1359.2 2027.9,1389.2 2026.6,1408.7 C2025.3,1428.3 2028.8,1445.7 2031.8,1460.9 C2034.9,1476.1 2039.2,1489.6 2044.9,1500.1 C2050.5,1510.5 2062.3,1519.6 2065.7,1523.5 L2086.6,1523.5 L2086.6,1314.8Z" fill="#00c0e0" filter="url(#soft2)"/>
<path d="M1752.6,1280.9 C1767.9,1274.0 1801.8,1275.8 1825.7,1276.2 C1849.6,1276.6 1881.4,1278.8 1896.1,1283.5 C1910.9,1288.2 1910.5,1283.5 1914.4,1304.4 C1918.3,1325.2 1920.1,1373.9 1919.6,1408.7 C1919.2,1443.5 1915.3,1490.5 1911.8,1513.1 C1908.3,1535.7 1912.2,1538.3 1898.8,1544.4 C1885.3,1550.5 1854.4,1550.5 1830.9,1549.6 C1807.4,1548.8 1773.5,1545.3 1757.9,1539.2 C1742.2,1533.1 1741.8,1534.8 1737.0,1513.1 C1732.2,1491.4 1729.6,1441.3 1729.2,1408.7 C1728.7,1376.1 1730.5,1338.7 1734.4,1317.4 C1738.3,1296.1 1737.4,1287.8 1752.6,1280.9Z" fill="#e4c400" filter="url(#soft2)"/>
<path d="M1825.7,1305.7 C1836.6,1305.9 1850.0,1307.2 1859.6,1312.2 C1869.2,1317.2 1876.6,1324.8 1883.1,1335.7 C1889.6,1346.5 1895.3,1363.1 1898.8,1377.4 C1902.2,1391.8 1904.0,1407.9 1904.0,1421.8 C1904.0,1435.7 1902.2,1448.7 1898.8,1460.9 C1895.3,1473.1 1890.1,1485.3 1883.1,1494.8 C1876.1,1504.4 1866.6,1513.1 1857.0,1518.3 C1847.4,1523.5 1835.7,1526.1 1825.7,1526.1 C1815.7,1526.1 1805.7,1523.5 1797.0,1518.3 C1788.3,1513.1 1780.5,1504.4 1773.5,1494.8 C1766.6,1485.3 1759.4,1473.1 1755.2,1460.9 C1751.1,1448.7 1749.2,1437.0 1748.7,1421.8 C1748.3,1406.6 1749.4,1384.8 1752.6,1369.6 C1755.9,1354.4 1761.3,1340.2 1768.3,1330.5 C1775.3,1320.7 1784.8,1315.0 1794.4,1310.9 C1804.0,1306.8 1814.8,1305.5 1825.7,1305.7Z" fill="#f46400" filter="url(#soft)"/>
<path d="M1820.5,1335.7 C1827.4,1335.9 1837.0,1337.0 1844.0,1342.2 C1850.9,1347.4 1857.9,1358.1 1862.2,1367.0 C1866.6,1375.9 1867.4,1386.6 1870.1,1395.7 C1872.7,1404.8 1876.4,1413.9 1877.9,1421.8 C1879.4,1429.6 1880.5,1435.3 1879.2,1442.6 C1877.9,1450.0 1874.2,1458.7 1870.1,1466.1 C1865.9,1473.5 1860.5,1482.0 1854.4,1487.0 C1848.3,1492.0 1840.5,1495.7 1833.5,1496.1 C1826.6,1496.6 1819.2,1494.2 1812.6,1489.6 C1806.1,1485.0 1799.6,1476.1 1794.4,1468.7 C1789.2,1461.3 1784.6,1454.0 1781.3,1445.3 C1778.1,1436.6 1775.7,1427.0 1774.8,1416.6 C1773.9,1406.1 1774.2,1392.6 1776.1,1382.6 C1778.1,1372.6 1782.2,1363.5 1786.6,1356.5 C1790.9,1349.6 1796.6,1344.4 1802.2,1340.9 C1807.9,1337.4 1813.5,1335.5 1820.5,1335.7Z" fill="#fa0000" filter="url(#soft)"/>
<path d="M1585.7,1055.2 C1589.6,1050.0 1600.9,1057.4 1609.1,1063.1 C1617.4,1068.7 1628.3,1080.9 1635.2,1089.1 C1642.2,1097.4 1650.4,1108.3 1650.9,1112.6 C1651.3,1117.0 1643.9,1117.0 1637.8,1115.2 C1631.7,1113.5 1623.1,1105.7 1614.4,1102.2 C1605.7,1098.7 1590.4,1102.2 1585.7,1094.4 C1580.9,1086.5 1581.7,1060.4 1585.7,1055.2Z" fill="#e4c400" filter="url(#soft15)"/>
<path d="M1585.7,1018.7 C1588.3,1011.3 1596.7,1016.5 1601.3,1021.3 C1605.9,1026.1 1610.9,1039.1 1613.1,1047.4 C1615.2,1055.7 1616.3,1067.4 1614.4,1070.9 C1612.4,1074.4 1606.1,1069.1 1601.3,1068.3 C1596.5,1067.4 1588.3,1073.9 1585.7,1065.7 C1583.0,1057.4 1583.0,1026.1 1585.7,1018.7Z" fill="#f46400" filter="url(#soft)"/>
<path d="M1589.6,1029.1 C1591.5,1027.1 1598.8,1030.2 1601.3,1033.1 C1603.8,1035.9 1605.5,1043.4 1604.4,1046.1 C1603.4,1048.8 1597.3,1049.6 1594.8,1049.5 C1592.3,1049.4 1590.4,1048.7 1589.6,1045.3 C1588.7,1041.9 1587.6,1031.2 1589.6,1029.1Z" fill="#fa0000" filter="url(#soft)"/>
<path d="M2068.3,1057.8 C2064.9,1053.9 2054.9,1061.3 2047.5,1065.7 C2040.1,1070.0 2030.1,1077.4 2024.0,1083.9 C2017.9,1090.5 2010.9,1100.9 2010.9,1104.8 C2010.9,1108.7 2017.9,1108.7 2024.0,1107.4 C2030.1,1106.1 2040.1,1100.0 2047.5,1097.0 C2054.9,1093.9 2064.9,1095.7 2068.3,1089.1 C2071.8,1082.6 2071.8,1061.8 2068.3,1057.8Z" fill="#e4c400" filter="url(#soft15)"/>
<path d="M2068.3,1021.3 C2065.7,1014.4 2057.0,1019.6 2052.7,1023.9 C2048.3,1028.3 2044.4,1040.4 2042.3,1047.4 C2040.1,1054.4 2037.9,1062.2 2039.6,1065.7 C2041.4,1069.1 2047.9,1068.3 2052.7,1068.3 C2057.5,1068.3 2065.7,1073.5 2068.3,1065.7 C2071.0,1057.8 2071.0,1028.3 2068.3,1021.3Z" fill="#f46400" filter="url(#soft)"/>
<path d="M1596.1,1013.5 C1602.6,1021.7 1624.4,1047.4 1635.2,1063.1 C1646.1,1078.7 1652.6,1092.6 1661.3,1107.4 C1670.0,1122.2 1678.3,1137.4 1687.4,1151.8 C1696.5,1166.1 1705.2,1180.0 1716.1,1193.5 C1727.0,1207.0 1740.0,1221.8 1752.6,1232.6 C1765.3,1243.5 1780.0,1252.2 1791.8,1258.7 C1803.5,1265.3 1812.2,1271.4 1823.1,1271.8 C1834.0,1272.2 1844.8,1267.9 1857.0,1261.3 C1869.2,1254.8 1884.0,1244.0 1896.1,1232.6 C1908.3,1221.3 1920.1,1206.1 1930.1,1193.5 C1940.1,1180.9 1947.0,1170.5 1956.2,1157.0 C1965.3,1143.5 1974.4,1127.8 1984.9,1112.6 C1995.3,1097.4 2007.0,1082.2 2018.8,1065.7 C2030.5,1049.1 2049.2,1022.2 2055.3,1013.5 L2055.3,990.0 L1596.1,990.0Z" fill="#00d200" filter="url(#soft)"/>
<path d="M1603.9,1010.9 C1610.4,1018.7 1631.3,1043.1 1643.1,1057.8 C1654.8,1072.6 1663.5,1086.1 1674.4,1099.6 C1685.2,1113.1 1697.0,1127.0 1708.3,1138.7 C1719.6,1150.5 1730.5,1160.5 1742.2,1170.0 C1753.9,1179.6 1764.8,1189.2 1778.7,1196.1 C1792.6,1203.1 1810.9,1210.9 1825.7,1211.8 C1840.5,1212.6 1854.0,1207.4 1867.4,1201.3 C1880.9,1195.3 1894.0,1185.7 1906.6,1175.2 C1919.2,1164.8 1931.4,1151.3 1943.1,1138.7 C1954.8,1126.1 1965.7,1113.1 1977.0,1099.6 C1988.3,1086.1 1999.2,1072.6 2010.9,1057.8 C2022.7,1043.1 2041.4,1018.7 2047.5,1010.9 L2047.5,990.0 L1603.9,990.0Z" fill="#00d890" filter="url(#soft15)"/>
<path d="M1611.7,1009.6 C1617.8,1016.3 1637.0,1036.7 1648.3,1050.0 C1659.6,1063.3 1668.7,1077.4 1679.6,1089.1 C1690.5,1100.9 1702.2,1110.9 1713.5,1120.5 C1724.8,1130.0 1735.7,1138.7 1747.4,1146.5 C1759.2,1154.4 1770.9,1162.2 1783.9,1167.4 C1797.0,1172.6 1812.2,1177.4 1825.7,1177.9 C1839.2,1178.3 1851.8,1174.8 1864.8,1170.0 C1877.9,1165.2 1891.4,1157.9 1904.0,1149.2 C1916.6,1140.5 1928.8,1129.2 1940.5,1117.8 C1952.2,1106.5 1963.1,1093.5 1974.4,1081.3 C1985.7,1069.1 1997.5,1056.8 2008.3,1044.8 C2019.2,1032.8 2034.4,1015.4 2039.6,1009.6 L2039.6,990.0 L1611.7,990.0Z" fill="#00c0e0" filter="url(#soft15)"/>
<path d="M1648.3,1009.6 C1652.6,1015.0 1665.7,1032.4 1674.4,1042.2 C1683.1,1052.0 1690.9,1060.0 1700.5,1068.3 C1710.0,1076.5 1720.9,1084.8 1731.8,1091.8 C1742.6,1098.7 1754.4,1104.8 1765.7,1110.0 C1777.0,1115.2 1788.7,1120.2 1799.6,1123.1 C1810.5,1125.9 1820.5,1127.4 1830.9,1127.0 C1841.3,1126.5 1851.4,1124.2 1862.2,1120.5 C1873.1,1116.8 1884.8,1111.8 1896.1,1104.8 C1907.4,1097.8 1919.2,1087.8 1930.1,1078.7 C1940.9,1069.6 1952.2,1058.7 1961.4,1050.0 C1970.5,1041.3 1977.9,1033.3 1984.9,1026.5 C1991.8,1019.8 2000.1,1012.4 2003.1,1009.6 L2003.1,990.0 L1648.3,990.0Z" fill="#0064e0" filter="url(#soft)"/>
<path d="M1820.5,1010.9 C1820.5,1013.3 1832.7,1020.0 1838.7,1020.0 C1844.8,1020.0 1857.0,1013.3 1857.0,1010.9 C1857.0,1008.5 1844.8,1005.7 1838.7,1005.7 C1832.7,1005.7 1820.5,1008.5 1820.5,1010.9Z" fill="#0000d4" filter="url(#soft)"/>
<path d="M1585.7,1757.0 C1588.7,1748.8 1597.0,1744.8 1603.9,1738.8 C1610.9,1732.7 1620.4,1724.0 1627.4,1720.5 C1634.4,1717.0 1643.1,1715.7 1645.7,1717.9 C1648.3,1720.1 1647.0,1727.0 1643.1,1733.5 C1639.1,1740.1 1628.7,1749.2 1622.2,1757.0 C1615.7,1764.8 1610.0,1775.3 1603.9,1780.5 C1597.8,1785.7 1588.7,1792.2 1585.7,1788.3 C1582.6,1784.4 1582.6,1765.3 1585.7,1757.0Z" fill="#e4c400" filter="url(#soft15)"/>
<path d="M1585.7,1762.2 C1588.7,1752.4 1598.7,1759.6 1603.9,1760.9 C1609.1,1762.2 1615.7,1765.5 1617.0,1770.1 C1618.3,1774.6 1614.8,1781.4 1611.7,1788.3 C1608.7,1795.3 1603.0,1806.6 1598.7,1811.8 C1594.4,1817.0 1587.8,1827.9 1585.7,1819.6 C1583.5,1811.4 1582.6,1772.0 1585.7,1762.2Z" fill="#f46400" filter="url(#soft)"/>
<path d="M2068.3,1757.0 C2065.3,1748.8 2057.0,1744.8 2050.1,1738.8 C2043.1,1732.7 2034.4,1724.4 2026.6,1720.5 C2018.8,1716.6 2006.2,1713.1 2003.1,1715.3 C2000.1,1717.4 2004.0,1726.6 2008.3,1733.5 C2012.7,1740.5 2022.7,1749.2 2029.2,1757.0 C2035.7,1764.8 2040.9,1775.3 2047.5,1780.5 C2054.0,1785.7 2064.9,1792.2 2068.3,1788.3 C2071.8,1784.4 2071.4,1765.3 2068.3,1757.0Z" fill="#e4c400" filter="url(#soft15)"/>
<path d="M2068.3,1759.6 C2064.4,1749.6 2049.6,1757.0 2044.9,1759.6 C2040.1,1762.2 2039.6,1769.2 2039.6,1775.3 C2039.6,1781.4 2042.7,1789.2 2044.9,1796.2 C2047.0,1803.1 2048.8,1813.1 2052.7,1817.0 C2056.6,1820.9 2065.7,1829.2 2068.3,1819.6 C2071.0,1810.1 2072.3,1769.6 2068.3,1759.6Z" fill="#f46400" filter="url(#soft)"/>
<path d="M2065.7,1775.3 C2063.6,1770.5 2056.2,1773.1 2052.7,1775.3 C2049.2,1777.5 2045.3,1784.0 2044.9,1788.3 C2044.4,1792.7 2046.6,1798.8 2050.1,1801.4 C2053.6,1804.0 2063.1,1808.3 2065.7,1804.0 C2068.3,1799.6 2067.9,1780.1 2065.7,1775.3Z" fill="#fa0000" filter="url(#soft)"/>
<path d="M1603.9,1824.9 C1609.2,1814.4 1625.7,1781.4 1635.8,1762.2 C1645.8,1743.1 1655.1,1727.0 1664.5,1710.1 C1673.8,1693.1 1684.5,1673.5 1692.1,1660.5 C1699.8,1647.4 1704.1,1640.5 1710.4,1631.8 C1716.6,1623.1 1722.6,1615.7 1729.7,1608.3 C1736.7,1600.9 1744.5,1593.1 1752.6,1587.4 C1760.8,1581.8 1770.0,1577.6 1778.7,1574.4 C1787.4,1571.1 1796.1,1569.2 1804.8,1567.9 C1813.5,1566.5 1822.2,1565.5 1830.9,1566.5 C1839.6,1567.6 1848.3,1570.5 1857.0,1574.4 C1865.7,1578.3 1874.4,1583.5 1883.1,1590.0 C1891.8,1596.6 1901.4,1605.3 1909.2,1613.5 C1917.0,1621.8 1923.5,1630.9 1930.1,1639.6 C1936.6,1648.3 1940.9,1654.0 1948.3,1665.7 C1955.7,1677.4 1965.7,1695.3 1974.4,1710.1 C1983.1,1724.8 1991.8,1740.9 2000.5,1754.4 C2009.2,1767.9 2017.9,1779.2 2026.6,1790.9 C2035.3,1802.7 2048.3,1819.2 2052.7,1824.9 L2052.7,1853.6 L1603.9,1853.6Z" fill="#00d200" filter="url(#soft)"/>
<path d="M1609.1,1824.9 C1615.7,1814.4 1637.4,1778.8 1648.3,1762.2 C1659.1,1745.7 1665.7,1737.0 1674.4,1725.7 C1683.1,1714.4 1691.8,1704.4 1700.5,1694.4 C1709.2,1684.4 1717.9,1674.4 1726.5,1665.7 C1735.2,1657.0 1743.9,1648.7 1752.6,1642.2 C1761.3,1635.7 1770.0,1630.7 1778.7,1626.6 C1787.4,1622.4 1796.1,1619.2 1804.8,1617.4 C1813.5,1615.7 1822.2,1615.5 1830.9,1616.1 C1839.6,1616.8 1848.3,1617.4 1857.0,1621.3 C1865.7,1625.3 1874.4,1632.2 1883.1,1639.6 C1891.8,1647.0 1900.5,1656.1 1909.2,1665.7 C1917.9,1675.3 1926.6,1686.1 1935.3,1697.0 C1944.0,1707.9 1952.7,1720.1 1961.4,1730.9 C1970.1,1741.8 1978.8,1752.7 1987.5,1762.2 C1996.2,1771.8 2003.6,1778.3 2013.6,1788.3 C2023.6,1798.3 2041.8,1816.6 2047.5,1822.2 L2047.5,1853.6 L1609.1,1853.6Z" fill="#00d890" filter="url(#soft15)"/>
<path d="M1617.0,1824.9 C1622.2,1816.6 1638.7,1789.2 1648.3,1775.3 C1657.8,1761.4 1665.7,1751.8 1674.4,1741.4 C1683.1,1730.9 1691.8,1721.4 1700.5,1712.7 C1709.2,1704.0 1717.9,1696.1 1726.5,1689.2 C1735.2,1682.2 1743.9,1676.1 1752.6,1670.9 C1761.3,1665.7 1770.0,1661.1 1778.7,1657.9 C1787.4,1654.6 1796.1,1652.6 1804.8,1651.3 C1813.5,1650.0 1822.2,1649.4 1830.9,1650.0 C1839.6,1650.7 1848.3,1651.8 1857.0,1655.3 C1865.7,1658.7 1874.4,1664.4 1883.1,1670.9 C1891.8,1677.4 1900.5,1685.7 1909.2,1694.4 C1917.9,1703.1 1926.6,1713.5 1935.3,1723.1 C1944.0,1732.7 1952.7,1742.2 1961.4,1751.8 C1970.1,1761.4 1978.8,1772.2 1987.5,1780.5 C1996.2,1788.8 2004.4,1794.4 2013.6,1801.4 C2022.7,1808.3 2037.5,1818.8 2042.3,1822.2 L2042.3,1853.6 L1617.0,1853.6Z" fill="#00c0e0" filter="url(#soft15)"/>
<path d="M1653.5,1822.2 C1659.1,1816.6 1677.4,1798.3 1687.4,1788.3 C1697.4,1778.3 1704.8,1770.5 1713.5,1762.2 C1722.2,1754.0 1730.9,1746.1 1739.6,1738.8 C1748.3,1731.4 1757.0,1723.5 1765.7,1717.9 C1774.4,1712.2 1783.1,1707.9 1791.8,1704.8 C1800.5,1701.8 1807.9,1700.3 1817.9,1699.6 C1827.9,1699.0 1841.8,1699.2 1851.8,1700.9 C1861.8,1702.7 1869.2,1705.5 1877.9,1710.1 C1886.6,1714.6 1895.3,1721.8 1904.0,1728.3 C1912.7,1734.8 1921.4,1741.4 1930.1,1749.2 C1938.8,1757.0 1947.5,1767.0 1956.2,1775.3 C1964.8,1783.5 1974.0,1790.9 1982.2,1798.8 C1990.5,1806.6 2001.8,1818.3 2005.7,1822.2 L2005.7,1853.6 L1653.5,1853.6Z" fill="#0064e0" filter="url(#soft)"/>
<path d="M1765.7,1822.2 C1769.2,1817.9 1780.0,1802.0 1786.6,1796.2 C1793.1,1790.3 1798.7,1789.0 1804.8,1787.0 C1810.9,1785.1 1816.6,1784.2 1823.1,1784.4 C1829.6,1784.6 1837.9,1785.9 1844.0,1788.3 C1850.0,1790.7 1854.0,1793.1 1859.6,1798.8 C1865.3,1804.4 1874.8,1818.3 1877.9,1822.2 L1877.9,1853.6 L1765.7,1853.6Z" fill="#0000d4" filter="url(#soft)"/>
<path d="M1592,1014.1 L2061.6,1014.1 Q2051.8,1415.6 2061.6,1817.1 L1592,1817.1 Q1598.6,1415.6 1592,1014.1Z" fill="none" stroke="#000" stroke-opacity="0.13" stroke-width="6"/>
</g></g>
<g filter="url(#leg)">
<rect x="90.6" y="284.3" width="81.4" height="56.6" fill="#ff0000"/>
<rect x="90.6" y="340.3" width="81.4" height="54.0" fill="#ff7800"/>
<rect x="90.6" y="393.6" width="81.4" height="54.0" fill="#ffe600"/>
<rect x="90.6" y="447.0" width="81.4" height="54.0" fill="#78ff00"/>
<rect x="90.6" y="500.4" width="81.4" height="54.0" fill="#00f500"/>
<rect x="90.6" y="553.8" width="81.4" height="54.0" fill="#00f500"/>
<rect x="90.6" y="607.1" width="81.4" height="54.0" fill="#00ffa0"/>
<rect x="90.6" y="660.5" width="81.4" height="54.0" fill="#00e4ff"/>
<rect x="90.6" y="713.9" width="81.4" height="54.0" fill="#006eff"/>
<rect x="90.6" y="767.2" width="81.4" height="56.0" fill="#0000ff"/>
<rect x="90.6" y="339.0" width="81.4" height="2.6" fill="#000" fill-opacity="0.3"/>
<rect x="90.6" y="392.3" width="81.4" height="2.6" fill="#000" fill-opacity="0.3"/>
<rect x="90.6" y="445.7" width="81.4" height="2.6" fill="#000" fill-opacity="0.3"/>
<rect x="90.6" y="499.1" width="81.4" height="2.6" fill="#000" fill-opacity="0.3"/>
<rect x="90.6" y="552.5" width="81.4" height="2.6" fill="#000" fill-opacity="0.3"/>
<rect x="90.6" y="605.8" width="81.4" height="2.6" fill="#000" fill-opacity="0.3"/>
<rect x="90.6" y="659.2" width="81.4" height="2.6" fill="#000" fill-opacity="0.3"/>
<rect x="90.6" y="712.6" width="81.4" height="2.6" fill="#000" fill-opacity="0.3"/>
<rect x="90.6" y="765.9" width="81.4" height="2.6" fill="#000" fill-opacity="0.3"/>
<rect x="90.6" y="284.3" width="81.4" height="538.9" fill="none" stroke="#000" stroke-opacity="0.25" stroke-width="2.6"/>
<rect x="172.0" y="284.7" width="24.5" height="3.8" fill="#aeaeae"/>
<rect x="172.0" y="338.1" width="24.5" height="3.8" fill="#aeaeae"/>
<rect x="172.0" y="391.4" width="24.5" height="3.8" fill="#aeaeae"/>
<rect x="172.0" y="444.8" width="24.5" height="3.8" fill="#aeaeae"/>
<rect x="172.0" y="498.2" width="24.5" height="3.8" fill="#aeaeae"/>
<rect x="172.0" y="551.6" width="24.5" height="3.8" fill="#aeaeae"/>
<rect x="172.0" y="604.9" width="24.5" height="3.8" fill="#aeaeae"/>
<rect x="172.0" y="658.3" width="24.5" height="3.8" fill="#aeaeae"/>
<rect x="172.0" y="711.7" width="24.5" height="3.8" fill="#aeaeae"/>
<rect x="172.0" y="765.0" width="24.5" height="3.8" fill="#aeaeae"/>
<rect x="172.0" y="818.4" width="24.5" height="3.8" fill="#aeaeae"/>
</g>
<g filter="url(#leg)">
<rect x="71.6" y="1250.2" width="83.2" height="57.6" fill="#ff0000"/>
<rect x="71.6" y="1307.2" width="83.2" height="55.6" fill="#ff7800"/>
<rect x="71.6" y="1362.2" width="83.2" height="55.6" fill="#ffe600"/>
<rect x="71.6" y="1417.3" width="83.2" height="55.6" fill="#78ff00"/>
<rect x="71.6" y="1472.3" width="83.2" height="55.6" fill="#00f500"/>
<rect x="71.6" y="1527.3" width="83.2" height="55.6" fill="#00f500"/>
<rect x="71.6" y="1582.3" width="83.2" height="55.6" fill="#00ffa0"/>
<rect x="71.6" y="1637.3" width="83.2" height="55.6" fill="#00e4ff"/>
<rect x="71.6" y="1692.4" width="83.2" height="55.6" fill="#006eff"/>
<rect x="71.6" y="1747.4" width="83.2" height="57.0" fill="#0000ff"/>
<rect x="71.6" y="1305.9" width="83.2" height="2.6" fill="#000" fill-opacity="0.3"/>
<rect x="71.6" y="1360.9" width="83.2" height="2.6" fill="#000" fill-opacity="0.3"/>
<rect x="71.6" y="1416.0" width="83.2" height="2.6" fill="#000" fill-opacity="0.3"/>
<rect x="71.6" y="1471.0" width="83.2" height="2.6" fill="#000" fill-opacity="0.3"/>
<rect x="71.6" y="1526.0" width="83.2" height="2.6" fill="#000" fill-opacity="0.3"/>
<rect x="71.6" y="1581.0" width="83.2" height="2.6" fill="#000" fill-opacity="0.3"/>
<rect x="71.6" y="1636.0" width="83.2" height="2.6" fill="#000" fill-opacity="0.3"/>
<rect x="71.6" y="1691.1" width="83.2" height="2.6" fill="#000" fill-opacity="0.3"/>
<rect x="71.6" y="1746.1" width="83.2" height="2.6" fill="#000" fill-opacity="0.3"/>
<rect x="71.6" y="1250.2" width="83.2" height="554.2" fill="none" stroke="#000" stroke-opacity="0.25" stroke-width="2.6"/>
<rect x="154.8" y="1250.0" width="26.2" height="3.8" fill="#aeaeae"/>
<rect x="154.8" y="1305.0" width="26.2" height="3.8" fill="#aeaeae"/>
<rect x="154.8" y="1360.0" width="26.2" height="3.8" fill="#aeaeae"/>
<rect x="154.8" y="1415.1" width="26.2" height="3.8" fill="#aeaeae"/>
<rect x="154.8" y="1470.1" width="26.2" height="3.8" fill="#aeaeae"/>
<rect x="154.8" y="1525.1" width="26.2" height="3.8" fill="#aeaeae"/>
<rect x="154.8" y="1580.1" width="26.2" height="3.8" fill="#aeaeae"/>
<rect x="154.8" y="1635.1" width="26.2" height="3.8" fill="#aeaeae"/>
<rect x="154.8" y="1690.2" width="26.2" height="3.8" fill="#aeaeae"/>
<rect x="154.8" y="1745.2" width="26.2" height="3.8" fill="#aeaeae"/>
<rect x="154.8" y="1800.2" width="26.2" height="3.8" fill="#aeaeae"/>
</g>
<g filter="url(#arr)">
<path d="M557.9,684.4 L567.5,684.4 L567.5,832.1 L717.9,832.1 L717.9,841.7 L560.9,841.7 Q557.9,841.7 557.9,838.7Z" fill="#f00000"/>
<path d="M562.7,657.4 L578.7,688.4 L546.7,688.4Z" fill="#ff0000"/>
<path d="M744.9,836.9 L713.9,820.9 L713.9,852.9Z" fill="#ff0000"/>
</g>
<g filter="url(#arr)">
<path d="M537.9,1661.2 L547.5,1661.2 L547.5,1808.0 L697.9,1808.0 L697.9,1817.6 L540.9,1817.6 Q537.9,1817.6 537.9,1814.6Z" fill="#e00830"/>
<path d="M542.7,1634.2 L558.7,1665.2 L526.7,1665.2Z" fill="#ff0000"/>
<path d="M724.9,1812.8 L693.9,1796.8 L693.9,1828.8Z" fill="#ff0000"/>
</g>
<g filter="url(#txt)" font-size="100">
<text transform="matrix(1.0816 0 0 1.0811 73.77 122.20)" fill="#000">(a)</text>
<text transform="matrix(1.0500 0 0 1.0822 50.40 1097.77)" fill="#000">(b)</text>
<text transform="matrix(1.2057 0 0 1.1565 88.98 250.30)" font-style="italic" fill="#000" stroke="#fff" stroke-width="1.8">ε</text>
<text transform="matrix(0.5753 0 0 0.5239 130.78 265.30)" font-style="italic" fill="#000">xx</text>
<text transform="matrix(1.2629 0 0 1.1457 64.31 1212.30)" font-style="italic" fill="#000" stroke="#fff" stroke-width="1.8">ε</text>
<text transform="matrix(0.5072 0 0 0.5090 109.26 1228.21)" font-style="italic" fill="#000">yy</text>
<text transform="matrix(0.6291 0 0 0.6701 525.59 641.73)" font-style="italic" font-weight="bold" fill="#b81818">y</text>
<text transform="matrix(0.7375 0 0 0.5935 748.04 875.00)" font-style="italic" font-weight="bold" fill="#b81818">x</text>
<text transform="matrix(0.6582 0 0 0.6701 505.08 1616.93)" font-style="italic" font-weight="bold" fill="#b81818">y</text>
<text transform="matrix(0.7542 0 0 0.6348 733.75 1857.50)" font-style="italic" font-weight="bold" fill="#b81818">x</text>
<text transform="matrix(0.6215 0 0 0.6632 716.31 933.37)" fill="#1a1a1a">0.1mm</text>
<text transform="matrix(0.6215 0 0 0.6746 1222.31 935.65)" fill="#1a1a1a">0.3mm</text>
<text transform="matrix(0.5979 0 0 0.6500 1771.42 936.20)" fill="#1a1a1a">1mm</text>
<text transform="matrix(0.6349 0 0 0.6647 700.56 1921.07)" fill="#1a1a1a">0.1mm</text>
<text transform="matrix(0.6276 0 0 0.6746 1218.59 1921.05)" fill="#1a1a1a">0.3mm</text>
<text transform="matrix(0.6072 0 0 0.6697 1761.84 1922.40)" fill="#1a1a1a">1mm</text>
<text transform="matrix(0.5978 0 0 0.6209 236.91 302.06)" fill="#161616">0.0060</text>
<text transform="matrix(0.5888 0 0 0.6118 236.94 355.53)" fill="#161616">0.0018</text>
<text transform="matrix(0.5921 0 0 0.6209 239.93 408.96)" fill="#161616">0.0025</text>
<text transform="matrix(0.6065 0 0 0.6209 201.67 462.41)" fill="#161616">−0.0067</text>
<text transform="matrix(0.6160 0 0 0.6118 201.62 515.88)" fill="#161616">−0.0110</text>
<text transform="matrix(0.6121 0 0 0.6118 201.64 569.33)" fill="#161616">−0.0152</text>
<text transform="matrix(0.6084 0 0 0.6118 201.66 622.78)" fill="#161616">−0.0195</text>
<text transform="matrix(0.6065 0 0 0.6209 201.67 676.21)" fill="#161616">−0.0237</text>
<text transform="matrix(0.6084 0 0 0.6209 201.66 729.66)" fill="#161616">−0.0280</text>
<text transform="matrix(0.6121 0 0 0.6209 201.64 783.11)" fill="#161616">−0.0322</text>
<text transform="matrix(0.6084 0 0 0.6209 201.66 836.56)" fill="#161616">−0.0365</text>
<text transform="matrix(0.6079 0 0 0.6209 206.77 1266.76)" fill="#161616">0.0280</text>
<text transform="matrix(0.6125 0 0 0.6209 206.75 1321.88)" fill="#161616">0.0252</text>
<text transform="matrix(0.6033 0 0 0.6209 206.79 1377.00)" fill="#161616">0.0224</text>
<text transform="matrix(0.6056 0 0 0.6118 206.78 1432.14)" fill="#161616">0.0196</text>
<text transform="matrix(0.6079 0 0 0.6118 206.77 1487.26)" fill="#161616">0.0168</text>
<text transform="matrix(0.6079 0 0 0.6118 206.77 1542.38)" fill="#161616">0.0140</text>
<text transform="matrix(0.6195 0 0 0.6118 206.72 1597.50)" fill="#161616">0.0112</text>
<text transform="matrix(0.6033 0 0 0.6209 206.79 1652.60)" fill="#161616">0.0084</text>
<text transform="matrix(0.6056 0 0 0.6209 206.78 1707.72)" fill="#161616">0.0056</text>
<text transform="matrix(0.6079 0 0 0.6209 206.77 1762.84)" fill="#161616">0.0028</text>
<text transform="matrix(0.6079 0 0 0.6209 206.77 1817.96)" fill="#161616">0.0000</text>
</g>
</svg>
</body>
</html>
